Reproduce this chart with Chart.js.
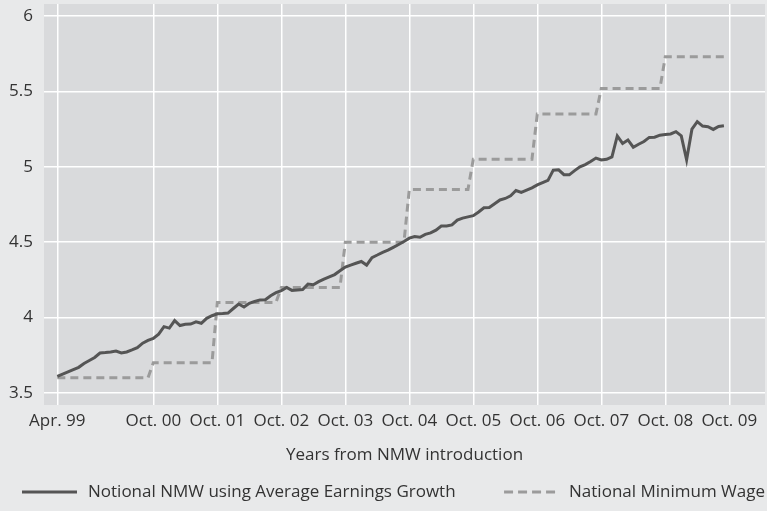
<!DOCTYPE html>
<html>
<head>
<meta charset="utf-8">
<script src="https://cdn.jsdelivr.net/npm/chart.js@4.4.1/dist/chart.umd.min.js"></script>
<style>
  html, body { margin: 0; padding: 0; background: #e8e9ea; }
  #wrap { width: 767px; height: 511px; position: relative; }
</style>
</head>
<body>
<div id="wrap"><canvas id="c" width="767" height="511"></canvas></div>
<script>
// Months since April 1999 (0 = Apr. 99)
const seriesNames = ["Notional NMW using Average Earnings Growth", "National Minimum Wage"];

const notionalNMW = [
  3.61, 3.625, 3.64, 3.655, 3.67, 3.695, 3.715, 3.735, 3.765, 3.768,
  3.772, 3.778, 3.765, 3.772, 3.785, 3.80, 3.83, 3.848, 3.862, 3.89,
  3.94, 3.93, 3.98, 3.947, 3.955, 3.957, 3.972, 3.962, 3.995, 4.012,
  4.025, 4.027, 4.03, 4.06, 4.09, 4.07, 4.095, 4.107, 4.117, 4.118,
  4.145, 4.165, 4.178, 4.20, 4.18, 4.183, 4.186, 4.222, 4.218, 4.238,
  4.255, 4.27, 4.285, 4.31, 4.335, 4.348, 4.36, 4.372, 4.348, 4.398,
  4.415, 4.433, 4.447, 4.466, 4.485, 4.505, 4.527, 4.537, 4.533, 4.552,
  4.562, 4.58, 4.607, 4.608, 4.615, 4.647, 4.66, 4.668, 4.676, 4.70,
  4.728, 4.73, 4.755, 4.78, 4.79, 4.808, 4.843, 4.83, 4.845, 4.86,
  4.88, 4.895, 4.91, 4.978, 4.98, 4.948, 4.947, 4.975, 5.0, 5.015,
  5.035, 5.058, 5.045, 5.05, 5.066, 5.205, 5.155, 5.178, 5.13, 5.15,
  5.168, 5.195, 5.196, 5.21, 5.215, 5.218, 5.233, 5.205, 5.047, 5.25,
  5.30, 5.27, 5.266, 5.248, 5.268, 5.273
];

const nationalMinimumWage = [
  3.60, 3.60, 3.60, 3.60, 3.60, 3.60, 3.60, 3.60, 3.60, 3.60,
  3.60, 3.60, 3.60, 3.60, 3.60, 3.60, 3.60, 3.60, 3.70, 3.70,
  3.70, 3.70, 3.70, 3.70, 3.70, 3.70, 3.70, 3.70, 3.70, 3.70,
  4.10, 4.10, 4.10, 4.10, 4.10, 4.10, 4.10, 4.10, 4.10, 4.10,
  4.10, 4.10, 4.20, 4.20, 4.20, 4.20, 4.20, 4.20, 4.20, 4.20,
  4.20, 4.20, 4.20, 4.20, 4.50, 4.50, 4.50, 4.50, 4.50, 4.50,
  4.50, 4.50, 4.50, 4.50, 4.50, 4.50, 4.85, 4.85, 4.85, 4.85,
  4.85, 4.85, 4.85, 4.85, 4.85, 4.85, 4.85, 4.85, 5.05, 5.05,
  5.05, 5.05, 5.05, 5.05, 5.05, 5.05, 5.05, 5.05, 5.05, 5.05,
  5.35, 5.35, 5.35, 5.35, 5.35, 5.35, 5.35, 5.35, 5.35, 5.35,
  5.35, 5.35, 5.52, 5.52, 5.52, 5.52, 5.52, 5.52, 5.52, 5.52,
  5.52, 5.52, 5.52, 5.52, 5.73, 5.73, 5.73, 5.73, 5.73, 5.73,
  5.73, 5.73, 5.73, 5.73, 5.73, 5.73
];

const xTickMonths = [0, 18, 30, 42, 54, 66, 78, 90, 102, 114, 126];
const xTickLabels = ["Apr. 99", "Oct. 00", "Oct. 01", "Oct. 02", "Oct. 03", "Oct. 04", "Oct. 05", "Oct. 06", "Oct. 07", "Oct. 08", "Oct. 09"];
const yTickValues = [3.5, 4, 4.5, 5, 5.5, 6];
const xAxisTitle = "Years from NMW introduction";

const FONT = "'Open Sans', 'Noto Sans', sans-serif";
const TEXT = "#333333";

const toPoints = arr => arr.map((v, i) => ({ x: i, y: v }));

const bgPlugin = {
  id: 'bg',
  beforeDraw(chart) {
    const { ctx, chartArea: a } = chart;
    ctx.save();
    ctx.fillStyle = '#e8e9ea';
    ctx.fillRect(0, 0, chart.width, chart.height);
    ctx.fillStyle = '#d9dadc';
    ctx.fillRect(a.left, a.top, a.right - a.left, a.bottom - a.top);
    ctx.restore();
  }
};

const legendPlugin = {
  id: 'customLegend',
  afterDraw(chart) {
    const { ctx } = chart;
    const y = 492;
    ctx.save();
    ctx.font = "17px " + FONT;
    ctx.textBaseline = 'middle';
    ctx.fillStyle = TEXT;
    const ds = chart.data.datasets;
    ctx.strokeStyle = ds[0].borderColor;
    ctx.lineWidth = ds[0].borderWidth;
    ctx.setLineDash([]);
    ctx.beginPath(); ctx.moveTo(22, y); ctx.lineTo(77, y); ctx.stroke();
    ctx.textAlign = 'left';
    ctx.fillText(ds[0].label, 88, y);
    const w2 = ctx.measureText(ds[1].label).width;
    const tx = 765 - w2;
    ctx.fillText(ds[1].label, tx, y);
    ctx.strokeStyle = ds[1].borderColor;
    ctx.lineWidth = ds[1].borderWidth;
    ctx.setLineDash([9, 5]);
    ctx.beginPath(); ctx.moveTo(tx - 65, y); ctx.lineTo(tx - 10, y); ctx.stroke();
    ctx.restore();
  }
};

new Chart(document.getElementById('c'), {
  type: 'line',
  data: {
    datasets: [
      {
        label: seriesNames[0],
        data: toPoints(notionalNMW),
        borderColor: '#555555',
        borderWidth: 3,
        pointRadius: 0,
        tension: 0,
        fill: false
      },
      {
        label: seriesNames[1],
        data: toPoints(nationalMinimumWage),
        borderColor: '#9b9b9b',
        borderWidth: 3,
        borderDash: [8, 5],
        pointRadius: 0,
        tension: 0,
        fill: false
      }
    ]
  },
  options: {
    responsive: false,
    animation: false,
    devicePixelRatio: 1,
    layout: { padding: { top: 4, right: 2, bottom: 46, left: 0 } },
    plugins: {
      legend: { display: false },
      tooltip: { enabled: false }
    },
    scales: {
      x: {
        type: 'linear',
        min: -2.5,
        max: 132.7,
        afterBuildTicks(scale) { scale.ticks = xTickMonths.map(v => ({ value: v })); },
        afterFit(scale) { scale.height = 60; scale.paddingLeft = 0; scale.paddingRight = 0; },
        ticks: {
          autoSkip: false,
          maxRotation: 0,
          minRotation: 0,
          padding: 6,
          color: TEXT,
          font: { family: FONT, size: 17 },
          callback(value) {
            const i = xTickMonths.indexOf(value);
            return i >= 0 ? xTickLabels[i] : '';
          }
        },
        grid: { color: '#ffffff', lineWidth: 1.5, drawTicks: false },
        border: { display: false },
        title: {
          display: true,
          text: xAxisTitle,
          color: TEXT,
          font: { family: FONT, size: 17 },
          padding: { top: 0, bottom: 0 }
        }
      },
      y: {
        type: 'linear',
        min: 3.42,
        max: 6.08,
        afterBuildTicks(scale) { scale.ticks = yTickValues.map(v => ({ value: v })); },
        afterFit(scale) { scale.width = 44; scale.paddingTop = 0; scale.paddingBottom = 0; },
        ticks: {
          padding: 11,
          color: TEXT,
          font: { family: FONT, size: 17 },
          callback(value) { return String(value); }
        },
        grid: { color: '#ffffff', lineWidth: 1.5, drawTicks: false },
        border: { display: false }
      }
    }
  },
  plugins: [bgPlugin, legendPlugin]
});
</script>
</body>
</html>
